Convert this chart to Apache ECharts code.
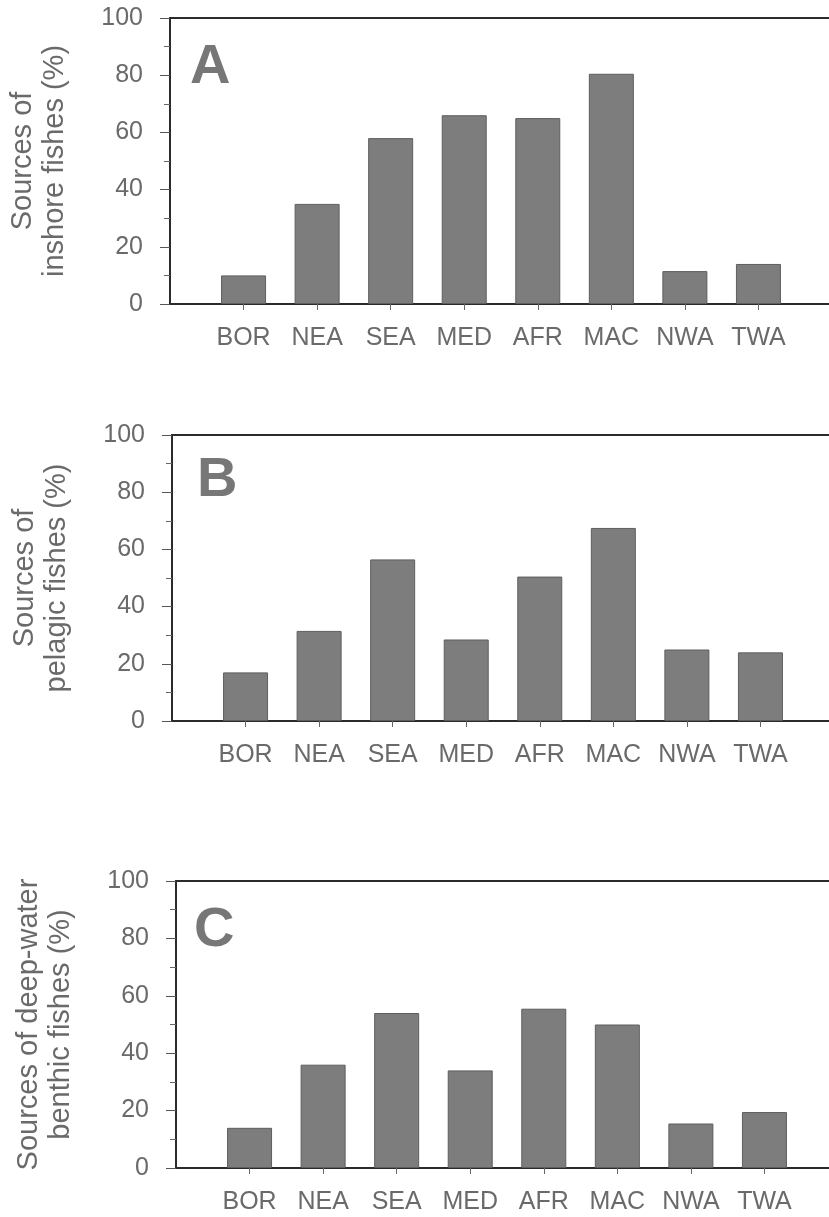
<!DOCTYPE html>
<html>
<head>
<meta charset="utf-8">
<script src="https://cdn.jsdelivr.net/npm/echarts@6/dist/echarts.min.js"></script>
<style>
  html, body { margin: 0; padding: 0; background: #ffffff; overflow: hidden; }
  #chart { width: 829px; height: 1217px; }
</style>
</head>
<body>
<div id="chart"></div>
<script>
// regions along the x axis
const regions = ['BOR', 'NEA', 'SEA', 'MED', 'AFR', 'MAC', 'NWA', 'TWA'];
// % sources per panel
const inshore = [10, 35, 58, 66, 65, 80.5, 11.5, 14];
const pelagic = [17, 31.5, 56.5, 28.5, 50.5, 67.5, 25, 24];
const deepBenthic = [14, 36, 54, 34, 55.5, 50, 15.5, 19.5];
const yTicks = [0, 20, 40, 60, 80, 100];
const panelLetters = ['A', 'B', 'C'];
const axisNames = [
  'Sources of\ninshore fishes (%)',
  'Sources of\npelagic fishes (%)',
  'Sources of deep-water\nbenthic fishes (%)'
];

const textGray = '#6a6a6a';
const barGray = '#7d7d7d';
const lineColor = '#2b2b2b';
const font = 'Liberation Sans, Arial, sans-serif';

// one empty slot in front of BOR and one after TWA
const cats = [''].concat(regions, ['']);
const pad = arr => [null].concat(arr, [null]);

// plot area runs past the right edge of the page, like the scan
const panels = [
  { left: 170, top: 18, height: 286, data: inshore, letterLeft: 190, letterTop: 40 },
  { left: 172, top: 435, height: 286, data: pelagic, letterLeft: 197, letterTop: 453 },
  { left: 176, top: 881, height: 287, data: deepBenthic, letterLeft: 194, letterTop: 903 }
];
const plotWidth = 662;

const chart = echarts.init(document.getElementById('chart'), null, { renderer: 'canvas' });

const option = {
  backgroundColor: '#ffffff',
  animation: false,
  title: panels.map((p, i) => ({
    text: panelLetters[i],
    left: p.letterLeft,
    top: p.letterTop,
    padding: 0,
    textStyle: { fontFamily: font, fontSize: 56, fontWeight: 'bold', color: '#777777' }
  })),
  grid: panels.map(p => ({
    left: p.left,
    top: p.top,
    height: p.height,
    width: plotWidth,
    outerBoundsMode: 'none',
    containLabel: false,
    show: true,
    borderColor: lineColor,
    borderWidth: 2,
    backgroundColor: 'transparent'
  })),
  xAxis: panels.map((p, i) => ({
    type: 'category',
    gridIndex: i,
    data: cats,
    boundaryGap: false,
    axisLine: { show: true, lineStyle: { color: lineColor, width: 2 } },
    axisTick: {
      show: true, length: 6,
      interval: idx => idx > 0 && idx < cats.length - 1,
      lineStyle: { color: '#666', width: 1 }
    },
    axisLabel: { interval: 0, margin: 22, fontFamily: font, fontSize: 25, color: textGray },
    splitLine: { show: false }
  })),
  yAxis: panels.map((p, i) => ({
    type: 'value',
    gridIndex: i,
    min: yTicks[0],
    max: yTicks[yTicks.length - 1],
    interval: yTicks[1] - yTicks[0],
    name: axisNames[i],
    nameLocation: 'middle',
    nameGap: 99,
    nameTextStyle: { fontFamily: font, fontSize: 29, lineHeight: 32, color: textGray },
    axisLine: { show: true, lineStyle: { color: lineColor, width: 2 } },
    axisTick: { show: true, inside: false, length: 10, lineStyle: { color: '#555', width: 1 } },
    minorTick: { show: true, splitNumber: 2, length: 6, lineStyle: { color: '#666', width: 1 } },
    axisLabel: { margin: 27, fontFamily: font, fontSize: 25, color: textGray },
    splitLine: { show: false }
  })),
  series: panels.map((p, i) => ({
    type: 'bar',
    xAxisIndex: i,
    yAxisIndex: i,
    data: pad(p.data),
    barWidth: 45,
    itemStyle: { color: barGray, borderColor: '#5e5e5e', borderWidth: 1 },
    silent: true
  }))
};

chart.setOption(option);
</script>
</body>
</html>
